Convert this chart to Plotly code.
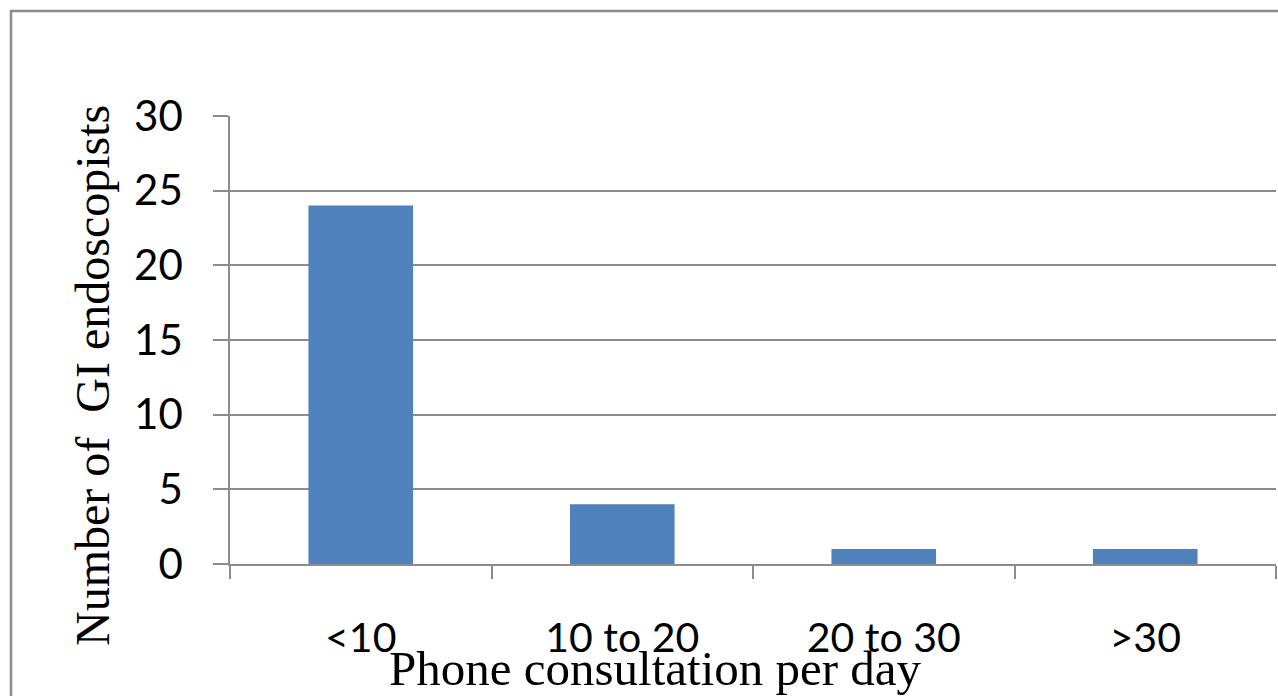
import plotly.graph_objects as go

categories = ["<10", "10 to 20", "20 to 30", ">30"]
counts = [24, 4, 1, 1]
y_ticks = [0, 5, 10, 15, 20, 25, 30]

W, H = 1278, 696
L, R, T, B = 230, 2, 116, 132
pw, ph = W - L - R, H - T - B

def px_x(sx):
    return (sx - L) / pw

def px_y(sy):
    return (H - B - sy) / ph

grid = "#8c8c8c"

fig = go.Figure(go.Bar(x=categories, y=counts, marker_color="#4f81bd",
                       marker_line_width=0, width=0.4))

fig.update_layout(
    width=W, height=H, margin=dict(l=L, r=R, t=T, b=B),
    paper_bgcolor="white", plot_bgcolor="white", showlegend=False, bargap=0.6,
    font=dict(family="Lato", color="black"),
)
fig.update_xaxes(
    type="category", tickson="boundaries", ticks="outside", ticklen=13,
    tickcolor=grid, tickwidth=1.5, showline=True, linecolor=grid, linewidth=1.5,
    showgrid=False, tickfont=dict(family="Lato", size=41), ticklabelstandoff=37,
)
fig.update_yaxes(
    range=[0, 30], tickvals=y_ticks, ticks="outside", ticklen=15, tickcolor=grid,
    tickwidth=1.5, showgrid=True, gridcolor=grid, gridwidth=1.5, showline=True,
    linecolor=grid, linewidth=1.5, zeroline=False,
    tickfont=dict(family="Lato", size=42), ticklabelstandoff=22,
)
fig.add_annotation(text="Number of\u00a0 GI endoscopists", textangle=-90,
                   xref="paper", yref="paper", x=px_x(92), y=px_y(376),
                   xanchor="center", yanchor="middle", showarrow=False,
                   font=dict(family="Liberation Serif", size=48, color="black"))
fig.add_annotation(text="Phone consultation per day",
                   xref="paper", yref="paper", x=px_x(655), y=px_y(668),
                   xanchor="center", yanchor="middle", showarrow=False,
                   font=dict(family="Liberation Serif", size=49, color="black"))
fig.add_shape(type="rect", xref="paper", yref="paper",
              x0=px_x(11), y0=px_y(760), x1=px_x(1320), y1=px_y(11),
              line=dict(color=grid, width=2.5), fillcolor="rgba(0,0,0,0)", layer="below")

fig.write_html(
    "out.html",
    config={"displayModeBar": False},
    post_script="document.body.style.margin='0';"
                "document.documentElement.style.overflow='hidden';"
                "document.body.style.overflow='hidden';",
)
